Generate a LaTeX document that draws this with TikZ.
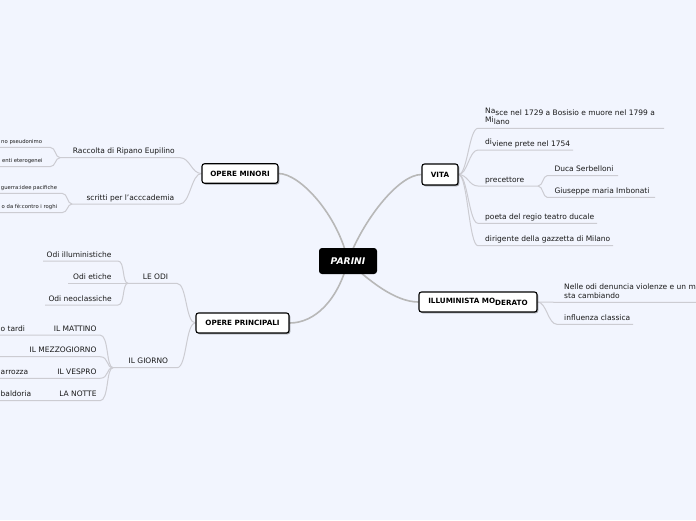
\documentclass[tikz,border=0pt]{standalone}
\usepackage{fontspec}
\setmainfont{DejaVu Sans}
\usetikzlibrary{shadows}
\definecolor{bgc}{RGB}{242,245,254}
\definecolor{mainln}{RGB}{184,184,184}
\definecolor{subln}{RGB}{204,204,210}
\definecolor{txt}{RGB}{25,25,25}
\pgfdeclarelayer{bgl}
\pgfdeclarelayer{lines}
\pgfsetlayers{bgl,lines,main}
\tikzset{
  topicbox/.style={draw=black, line width=1.1pt, fill=white, rounded corners=2.5pt,
    inner sep=0pt, text=black, font=\fontsize{7.2}{8}\selectfont\bfseries,
    drop shadow={shadow xshift=1.3pt, shadow yshift=-1.3pt, fill=black, opacity=0.35}},
  centerbox/.style={fill=black, rounded corners=3pt, inner sep=0pt, text=white,
    font=\fontsize{9.2}{10}\selectfont\bfseries\itshape},
  lbl/.style={inner sep=0pt, anchor=base west, text=txt, font=\fontsize{7.5}{9}\selectfont},
  lblr/.style={lbl, anchor=base east},
  tinylbl/.style={inner sep=0pt, anchor=base east, text=txt, font=\fontsize{5.3}{6}\selectfont},
  mainconn/.style={draw=mainln, line width=1.6pt},
  conn/.style={draw=subln, line width=1pt},
}
\begin{document}
\begin{tikzpicture}[x=1pt,y=-1pt]
\begin{pgfonlayer}{bgl}
\fill[bgc] (0,0) rectangle (696,520);
\end{pgfonlayer}
\useasboundingbox (0,0) rectangle (696,520);

% ---- main topics
\node[centerbox, minimum width=58pt, minimum height=26pt] (parini) at (348,261) {PARINI};
\node[topicbox, minimum width=76pt, minimum height=19.5pt] (om) at (240,173.5) {OPERE MINORI};
\node[topicbox, minimum width=93pt, minimum height=20pt] (op) at (242.5,323) {OPERE PRINCIPALI};
\node[topicbox, minimum width=36pt, minimum height=21pt] (vita) at (440,174.5) {VITA};
\node[topicbox, minimum width=118pt, minimum height=20pt] (illm) at (478,302) {ILLUMINISTA MO\raisebox{-1.5pt}{DERATO}};

% ---- VITA children
\coordinate (nas-a) at (478,128.3); \coordinate (nas-b) at (664,128.3);
\node[lbl, align=left] (nas) at (485,124.2) {\raisebox{1.3pt}{Na}sce nel 1729 a Bosisio e muore nel 1799 a\\\raisebox{1.3pt}{Mi}lano};
\coordinate (div-a) at (478,150); \coordinate (div-b) at (573,150);
\node[lbl] (div) at (485,146) {\raisebox{1.3pt}{di}viene prete nel 1754};
\coordinate (pre-a) at (478,186); \coordinate (pre-b) at (538,186);
\node[lbl] (pre) at (485,182) {precettore};
\coordinate (duc-a) at (547,175.7); \coordinate (duc-b) at (618,175.7);
\node[lbl] (duc) at (554.3,171.7) {Duca Serbelloni};
\coordinate (giu-a) at (547,197.3); \coordinate (giu-b) at (655,197.3);
\node[lbl] (giu) at (554.3,193.3) {Giuseppe maria Imbonati};
\coordinate (poe-a) at (478,223.3); \coordinate (poe-b) at (597,223.3);
\node[lbl] (poe) at (485,219.3) {poeta del regio teatro ducale};
\coordinate (dir-a) at (478,245.7); \coordinate (dir-b) at (613,245.7);
\node[lbl] (dir) at (485,241.7) {dirigente della gazzetta di Milano};

% ---- ILLUMINISTA children
\coordinate (nel-a) at (557,302.3); \coordinate (nel-b) at (696,302.3);
\node[lbl, align=left] (nel) at (564,298.5) {Nelle odi denuncia violenze e un m\\sta cambiando};
\coordinate (inf-a) at (557,324.3); \coordinate (inf-b) at (633,324.3);
\node[lbl] (inf) at (564,320.3) {influenza classica};

% ---- OPERE MINORI children
\coordinate (rac-a) at (60,157.7); \coordinate (rac-b) at (180,157.7);
\node[lblr] (rac) at (175,153.7) {Raccolta di Ripano Eupilino};
\coordinate (scr-a) at (72,204); \coordinate (scr-b) at (180,204);
\node[lblr] (scr) at (174.5,200) {scritti per l'acccademia};
\coordinate (pse-a) at (0,147.3); \coordinate (pse-b) at (50,147.3);
\node[tinylbl] (pse) at (42.3,143.3) {no pseudonimo};
\coordinate (ete-a) at (0,166.7); \coordinate (ete-b) at (50,166.7);
\node[tinylbl] (ete) at (42.7,162.7) {enti eterogenei};
\coordinate (gue-a) at (0,193.3); \coordinate (gue-b) at (62,193.3);
\node[tinylbl] (gue) at (57.3,189.3) {guerra:idee pacifiche};
\coordinate (rog-a) at (0,212.7); \coordinate (rog-b) at (62,212.7);
\node[tinylbl] (rog) at (57.3,208.7) {o da fè:contro i roghi};

% ---- OPERE PRINCIPALI children
\coordinate (odi-a) at (128,283.3); \coordinate (odi-b) at (177,283.3);
\node[lblr] (odi) at (168.3,279.3) {LE ODI};
\coordinate (ill-a) at (43,261); \coordinate (ill-b) at (118,261);
\node[lblr] (ill) at (111.7,257) {Odi illuministiche};
\coordinate (eti-a) at (68,283.3);
\node[lblr] (eti) at (111.7,279.3) {Odi etiche};
\coordinate (neo-a) at (45,305); \coordinate (neo-b) at (118,305);
\node[lblr] (neo) at (112,301) {Odi neoclassiche};
\coordinate (gio-a) at (113,367.7); \coordinate (gio-b) at (177,367.7);
\node[lblr] (gio) at (168.3,363.7) {IL GIORNO};
\coordinate (mat-a) at (0,335); \coordinate (mat-b) at (100,335);
\node[lblr] (mat) at (96.7,331) {IL MATTINO};
\node[lbl] (tar) at (0.5,331) {o tardi};
\coordinate (mez-a) at (0,356.7); \coordinate (mez-b) at (100,356.7);
\node[lblr] (mez) at (96.7,352.7) {IL MEZZOGIORNO};
\coordinate (ves-a) at (0,378.3); \coordinate (ves-b) at (100,378.3);
\node[lblr] (ves) at (96.7,374.3) {IL VESPRO};
\node[lbl] (car) at (0.5,374.3) {arrozza};
\coordinate (not-a) at (0,400.7); \coordinate (not-b) at (100,400.7);
\node[lblr] (not) at (96.7,396.7) {LA NOTTE};
\node[lbl] (bal) at (0.5,396.7) {baldoria};

\begin{pgfonlayer}{lines}
% main connectors
\draw[mainconn] (parini.center) .. controls (338,215) and (300,173.5) .. (om.east);
\draw[mainconn] (parini.center) .. controls (338,300) and (315,323) .. (op.east);
\draw[mainconn] (parini.center) .. controls (362,222) and (398,174.5) .. (vita.west);
\draw[mainconn] (parini.center) .. controls (368,280) and (395,302) .. (illm.west);
% VITA
\foreach \c in {nas,div,pre,poe,dir}{
  \draw[conn] (vita.east) .. controls +(9,0) and +(-9,0) .. (\c-a) -- (\c-b);
}
\foreach \c in {duc,giu}{
  \draw[conn] (pre-b) .. controls +(5,0) and +(-4,0) .. (\c-a) -- (\c-b);
}
% ILLUMINISTA
\foreach \c in {nel,inf}{
  \draw[conn] (illm.east) .. controls +(9,0) and +(-9,0) .. (\c-a) -- (\c-b);
}
% OPERE MINORI
\foreach \c in {rac,scr}{
  \draw[conn] (om.west) .. controls +(-10,0) and +(10,0) .. (\c-b) -- (\c-a);
}
\foreach \c in {pse,ete}{
  \draw[conn] (rac-a) .. controls +(-5,0) and +(6,0) .. (\c-b) -- (\c-a);
}
\foreach \c in {gue,rog}{
  \draw[conn] (scr-a) .. controls +(-5,0) and +(6,0) .. (\c-b) -- (\c-a);
}
% OPERE PRINCIPALI
\foreach \c in {odi,gio}{
  \draw[conn] (op.west) .. controls +(-10,0) and +(10,0) .. (\c-b) -- (\c-a);
}
\foreach \c in {ill,neo}{
  \draw[conn] (odi-a) .. controls +(-6,0) and +(7,0) .. (\c-b) -- (\c-a);
}
\draw[conn] (odi-a) -- (eti-a);
\foreach \c in {mat,mez,ves,not}{
  \draw[conn] (gio-a) .. controls +(-7,0) and +(9,0) .. (\c-b) -- (\c-a);
}
\end{pgfonlayer}
\end{tikzpicture}
\end{document}
